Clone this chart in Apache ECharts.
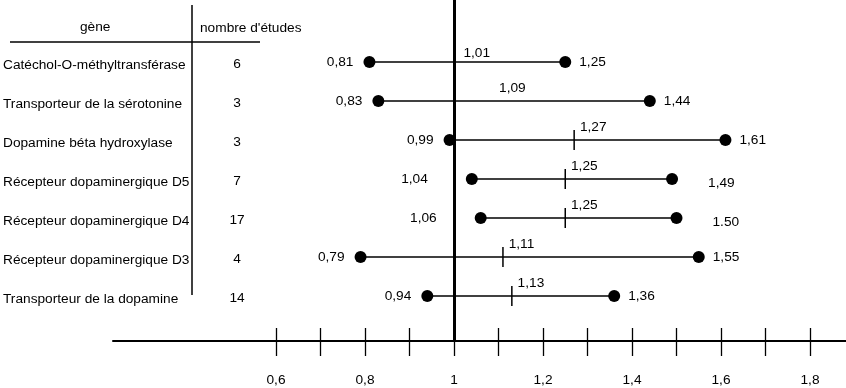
<!DOCTYPE html>
<html>
<head>
<meta charset="utf-8">
<script src="https://cdn.jsdelivr.net/npm/echarts@6/dist/echarts.min.js"></script>
<style>
  html, body { margin: 0; padding: 0; background: #fff; }
  #chart { width: 846px; height: 388px; }
</style>
</head>
<body>
<div id="chart"></div>
<script>
// ---- data ----
const genes = [
  'Catéchol-O-méthyltransférase',
  'Transporteur de la sérotonine',
  'Dopamine béta hydroxylase',
  'Récepteur dopaminergique D5',
  'Récepteur dopaminergique D4',
  'Récepteur dopaminergique D3',
  'Transporteur de la dopamine'
];
const studies = [6, 3, 3, 7, 17, 4, 14];
const lower = [0.81, 0.83, 0.99, 1.04, 1.06, 0.79, 0.94];
const mean = [1.01, 1.09, 1.27, 1.25, 1.25, 1.11, 1.13];
const upper = [1.25, 1.44, 1.61, 1.49, 1.50, 1.55, 1.36];
const upperText = ['1,25', '1,44', '1,61', '1,49', '1.50', '1,55', '1,36'];
const xTicks = [0.6, 0.7, 0.8, 0.9, 1, 1.1, 1.2, 1.3, 1.4, 1.5, 1.6, 1.7, 1.8];
const xTickLabels = [0.6, 0.8, 1, 1.2, 1.4, 1.6, 1.8];
const headerGene = 'gène';
const headerStudies = "nombre d'études";

// ---- helpers ----
const FONT = "'Liberation Sans', Arial, sans-serif";
const FS = 13.7;
const fmt = v => String(v).replace('.', ',');
const fmt2 = v => v.toFixed(2).replace('.', ',');
const rows = genes.map((_, i) => i);
const farRows = [3, 4]; // rows whose labels sit further from dots

const XMIN = 0.2337, XMAX = 1.8809;
const YMIN = -1.5897, YMAX = 7.1538;

const chart = echarts.init(document.getElementById('chart'), null, { renderer: 'canvas' });

const textBase = { color: '#000', fontFamily: FONT, fontSize: FS };

const option = {
  animation: false,
  backgroundColor: '#fff',
  grid: { left: 113, right: 0, top: 0, bottom: 47, containLabel: false },
  xAxis: [
    {
      type: 'value', min: XMIN, max: XMAX, position: 'bottom',
      axisLine: { show: true, onZero: false, lineStyle: { color: '#000', width: 2 } },
      axisTick: { show: true, inside: true, length: 13, customValues: xTicks, lineStyle: { color: '#000', width: 1.3 } },
      axisLabel: { show: true, customValues: xTickLabels, formatter: v => fmt(+v.toFixed(2)), margin: 32, ...textBase },
      splitLine: { show: false }
    },
    {
      // second axis placed at top, shifted down onto the bottom line: ticks below the line
      type: 'value', min: XMIN, max: XMAX, position: 'top', offset: -341,
      axisLine: { show: false, onZero: false },
      axisTick: { show: true, inside: true, length: 15, customValues: xTicks, lineStyle: { color: '#000', width: 1.3 } },
      axisLabel: { show: false },
      splitLine: { show: false }
    }
  ],
  yAxis: [
    {
      type: 'value', inverse: true, min: YMIN, max: YMAX, position: 'left',
      axisLine: { show: false }, axisTick: { show: false }, splitLine: { show: false },
      axisLabel: {
        show: true, customValues: rows, align: 'left', margin: 110,
        formatter: v => genes[Math.round(v)] || '',
        verticalAlign: 'top', lineHeight: 6, ...textBase
      }
    },
    {
      type: 'value', inverse: true, min: YMIN, max: YMAX, position: 'left', offset: -124,
      axisLine: { show: false }, axisTick: { show: false }, splitLine: { show: false },
      axisLabel: {
        show: true, customValues: rows, align: 'center', margin: 0,
        formatter: v => String(studies[Math.round(v)] ?? ''),
        verticalAlign: 'top', lineHeight: 4, ...textBase
      }
    }
  ],
  graphic: [
    { type: 'text', left: 80, top: 20, style: { text: headerGene, fill: '#000', font: FS + 'px ' + FONT } },
    { type: 'text', left: 200, top: 21, style: { text: headerStudies, fill: '#000', font: FS + 'px ' + FONT } },
    { type: 'line', shape: { x1: 10, y1: 42, x2: 260, y2: 42 }, style: { stroke: '#000', lineWidth: 1.5 } },
    { type: 'line', shape: { x1: 192, y1: 5, x2: 192, y2: 295 }, style: { stroke: '#000', lineWidth: 1.5 } }
  ],
  series: [
    {
      type: 'custom', name: 'range', xAxisIndex: 0, yAxisIndex: 0,
      data: rows.map(i => [lower[i], upper[i], i]),
      encode: { x: [0, 1], y: 2 },
      renderItem: (params, api) => {
        const a = api.coord([api.value(0), api.value(2)]);
        const b = api.coord([api.value(1), api.value(2)]);
        return { type: 'line', shape: { x1: a[0], y1: a[1], x2: b[0], y2: b[1] }, style: { stroke: '#000', lineWidth: 1.5 } };
      },
      markLine: {
        silent: true, symbol: 'none', animation: false,
        label: { show: false },
        lineStyle: { color: '#000', width: 3, type: 'solid', opacity: 1 },
        data: [{ xAxis: 1 }]
      },
      z: 2
    },
    {
      type: 'scatter', name: 'mean', xAxisIndex: 0, yAxisIndex: 0,
      symbol: 'rect',
      data: rows.map(i => ({
        value: [mean[i], i],
        symbolSize: i < 2 ? 0 : [1.5, 20],
        label: i === 0 ? { offset: [0, -9] } : {}
      })),
      itemStyle: { color: '#000', opacity: 1 },
      label: {
        show: true, position: 'right', distance: 5, offset: [0, -13],
        formatter: p => fmt2(p.value[0]), ...textBase
      },
      z: 3
    },
    {
      type: 'scatter', name: 'lower', xAxisIndex: 0, yAxisIndex: 0,
      symbol: 'circle', symbolSize: 12,
      data: rows.map(i => ({
        value: [lower[i], i],
        label: farRows.includes(i) ? { distance: 38 } : {}
      })),
      itemStyle: { color: '#000', opacity: 1 },
      label: { show: true, position: 'left', distance: 10, formatter: p => fmt2(p.value[0]), ...textBase },
      z: 4
    },
    {
      type: 'scatter', name: 'upper', xAxisIndex: 0, yAxisIndex: 0,
      symbol: 'circle', symbolSize: 12,
      data: rows.map(i => ({
        value: [upper[i], i],
        label: farRows.includes(i) ? { distance: 30, offset: [0, 4] } : {}
      })),
      itemStyle: { color: '#000', opacity: 1 },
      label: { show: true, position: 'right', distance: 8, formatter: p => upperText[p.dataIndex], ...textBase },
      z: 4
    }
  ]
};

chart.setOption(option);
</script>
</body>
</html>
